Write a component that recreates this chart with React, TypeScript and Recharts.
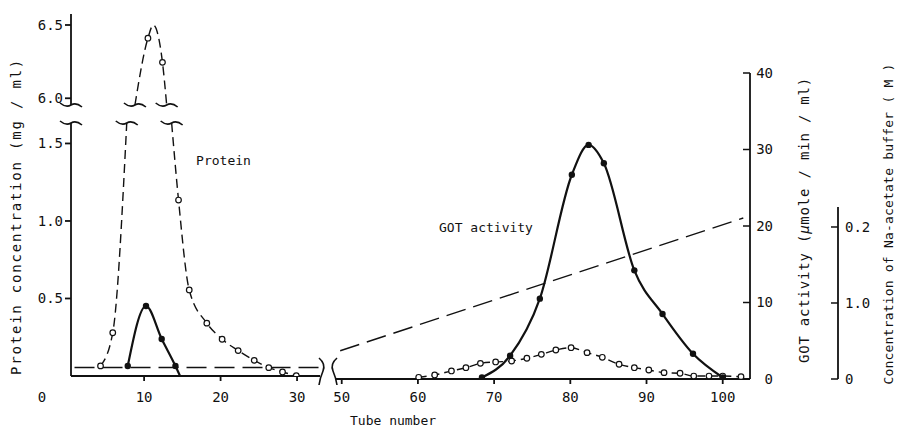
import React from 'react';
import { ComposedChart, Line, XAxis, YAxis, ReferenceDot } from 'recharts';

// values (tube number, value)
const proteinLeftLow: [number, number][] = [
  [4.3, 0.065], [5.9, 0.279],
  [14.5, 1.135], [15.9, 0.555], [18.2, 0.341], [20.2, 0.237], [22.3, 0.164],
  [24.4, 0.101], [26.3, 0.054], [28.1, 0.026], [29.9, 0.002],
];
const proteinLowBreaks = [7.73, 13.6]; // tubes where the curve leaves the lower panel
const proteinLeftHigh: [number, number][] = [[10.5, 6.41], [12.4, 6.245]];
const proteinHighPeak: [number, number] = [11.2, 6.5]; // top of the drawn curve (no marker)
const proteinHighBreaks = [8.8, 12.95];

const proteinRight: [number, number][] = [
  [60.1, 0.011], [62.2, 0.026], [64.4, 0.052], [66.3, 0.073], [68.2, 0.101],
  [70.2, 0.11], [72.3, 0.116], [74.3, 0.134], [76.2, 0.159], [78.1, 0.187],
  [80.1, 0.202], [82.2, 0.17], [84.2, 0.14], [86.4, 0.095], [88.4, 0.073],
  [90.3, 0.058], [92.3, 0.041], [94.4, 0.037], [96.2, 0.019], [98.2, 0.019],
  [100, 0.019], [102.4, 0.015],
];

const gotLeft: [number, number][] = [[7.86, 1.3], [10.25, 9.15], [12.3, 4.84], [14.1, 1.31]];
const gotLeftEnd: [number, number] = [14.7, 0];
const gotRight: [number, number][] = [
  [68.4, 0.2], [72.1, 3.05], [76.0, 10.5], [80.2, 26.7], [82.4, 30.6],
  [84.4, 28.2], [88.4, 14.2], [92.1, 8.5], [96.1, 3.3], [100, 0.2],
];

const bufferLeft: [number, number][] = [[0.9, 0.0112], [33, 0.0112]];
const bufferRight: [number, number][] = [[49.8, 0.0372], [102.7, 0.2118]];

const leftTicksX = [10, 20, 30];
const rightTicksX = [50, 60, 70, 80, 90, 100];
const proteinTicksLow = [0.5, 1.0, 1.5];
const proteinTicksHigh = [6.0, 6.5];
const gotTicks = [0, 10, 20, 30, 40];
const naTicks = [0, 0.1, 0.2];
const naTickLabels = ['0', '1.0', '0.2'];

// axis ranges (broken axes)
const LEFT_X: [number, number] = [0.44, 33.0];
const RIGHT_X: [number, number] = [49.25, 103.58];
const NA_X: [number, number] = [49.25, 115.13];
const LOW_TOP = 1.632;
const HIGH_BOTTOM = 5.954;

const INK = '#111';
const MONO = '"DejaVu Sans Mono", "Liberation Mono", monospace';

const marked = (key: string) => ([t, v]: [number, number]) => ({ t, [key]: v, mark: true });

const proteinLowRows = [
  ...proteinLeftLow.filter(([t]) => t < proteinLowBreaks[0]).map(marked('p')),
  { t: proteinLowBreaks[0], p: LOW_TOP },
  { t: (proteinLowBreaks[0] + proteinLowBreaks[1]) / 2, p: null },
  { t: proteinLowBreaks[1], p: LOW_TOP },
  ...proteinLeftLow.filter(([t]) => t > proteinLowBreaks[1]).map(marked('p')),
];
const proteinHighRows = [
  { t: proteinHighBreaks[0], p: HIGH_BOTTOM },
  ...proteinLeftHigh.map(marked('p')),
  { t: proteinHighPeak[0], p: proteinHighPeak[1] },
  { t: proteinHighBreaks[1], p: HIGH_BOTTOM },
].sort((a, b) => a.t - b.t);
const gotLeftRows = [...gotLeft.map(marked('g')), { t: gotLeftEnd[0], g: gotLeftEnd[1] }];
const gotRightRows = gotRight.map(marked('g'));
const proteinRightRows = proteinRight.map(marked('p'));
const bufferLeftRows = bufferLeft.map(([t, c]) => ({ t, c }));
const bufferRightRows = bufferRight.map(([t, c]) => ({ t, c }));

const openDot = (props: any) => {
  const { cx, cy, payload, index } = props;
  if (!payload?.mark || cy == null) return <g key={`o${index}`} />;
  return <circle key={`o${index}`} cx={cx} cy={cy} r={2.8} fill="#fff" stroke={INK} strokeWidth={1.2} />;
};
const filledDot = (props: any) => {
  const { cx, cy, payload, index } = props;
  if (!payload?.mark || cy == null) return <g key={`f${index}`} />;
  return <circle key={`f${index}`} cx={cx} cy={cy} r={3.2} fill={INK} />;
};

// break marks
const tilde = (p: any) => (
  <path
    d={`M ${p.cx - 11} ${p.cy - 2} Q ${p.cx - 5} ${p.cy + 3} ${p.cx} ${p.cy} T ${p.cx + 11} ${p.cy + 2}`}
    fill="none" stroke={INK} strokeWidth={1.6}
  />
);
const braceL = (p: any) => (
  <path
    d={`M ${p.cx - 1} ${p.cy - 18} Q ${p.cx + 6} ${p.cy - 12} ${p.cx + 3} ${p.cy - 5} T ${p.cx - 1} ${p.cy + 9}`}
    fill="none" stroke={INK} strokeWidth={1.6}
  />
);
const braceR = (p: any) => (
  <path
    d={`M ${p.cx + 1} ${p.cy - 21} Q ${p.cx - 6} ${p.cy - 15} ${p.cx - 3} ${p.cy - 8} T ${p.cx + 1} ${p.cy + 6}`}
    fill="none" stroke={INK} strokeWidth={1.6}
  />
);
const textAt = (text: string) => (p: any) => (
  <text x={p.cx} y={p.cy} fontFamily={MONO} fontSize={13} fill={INK}>{text}</text>
);

const tickStyle = { fontSize: 14, fill: INK, fontFamily: MONO };
const axisStyle = { stroke: INK, strokeWidth: 1.8 };

const GotTick = (props: any) => {
  const { x, y, payload } = props;
  return (
    <g>
      <line x1={x - 7} y1={y} x2={x} y2={y} stroke={INK} strokeWidth={1.5} />
      <text x={x + 23} y={y} dy="0.35em" textAnchor="end" {...tickStyle}>{payload.value}</text>
    </g>
  );
};
const NaTick = (props: any) => {
  const { x, y, index } = props;
  return (
    <g>
      <line x1={x - 7} y1={y} x2={x} y2={y} stroke={INK} strokeWidth={1.5} />
      <text x={x + 7} y={y} dy="0.35em" textAnchor="start" {...tickStyle}>{naTickLabels[index]}</text>
    </g>
  );
};

const layer: React.CSSProperties = { position: 'absolute', left: 0, top: 0 };

export default function App() {
  return (
    <div style={{ position: 'absolute', left: 0, top: 0, width: 900, height: 429, background: '#fff' }}>
      {/* lower left panel: protein 0 - 1.6, first GOT peak, starting buffer */}
      <div style={layer}>
        <ComposedChart width={900} height={429} margin={{ top: 123, right: 580, bottom: 23, left: 11 }}>
          <XAxis
            xAxisId="x" type="number" dataKey="t" domain={LEFT_X} allowDataOverflow
            ticks={leftTicksX} interval={0} tickSize={5} tickMargin={11} height={30}
            tick={tickStyle} axisLine={axisStyle} tickLine={axisStyle}
            label={{
              content: (p: any) => (
                <text x={p.viewBox.x - 29} y={p.viewBox.y + 25.5} textAnchor="middle" {...tickStyle}>0</text>
              ),
            }}
          />
          <YAxis
            yAxisId="p" type="number" domain={[0, LOW_TOP]} allowDataOverflow width={60}
            ticks={proteinTicksLow} interval={0} tickSize={6} tickMargin={2}
            tickFormatter={(v: number) => v.toFixed(1)}
            tick={tickStyle} axisLine={axisStyle} tickLine={axisStyle}
            label={{
              content: (p: any) => {
                const x = p.viewBox.x + 10;
                const y = p.viewBox.y + p.viewBox.height - 1;
                return (
                  <text x={x} y={y} transform={`rotate(-90 ${x} ${y})`} textAnchor="start"
                    fontFamily={MONO} fontSize={14} letterSpacing={1.8} fill={INK}>
                    Protein concentration (mg / ml)
                  </text>
                );
              },
            }}
          />
          <YAxis yAxisId="g" orientation="right" width={0} type="number" domain={[0, 33.07]} allowDataOverflow hide />
          <YAxis yAxisId="c" orientation="right" width={0} type="number" domain={[0, 0.3329]} allowDataOverflow hide />
          <Line xAxisId="x" yAxisId="c" data={bufferLeftRows} dataKey="c" type="linear" stroke={INK}
            strokeWidth={1.4} strokeDasharray="20 8" dot={false} activeDot={false} isAnimationActive={false} />
          <Line xAxisId="x" yAxisId="p" data={proteinLowRows} dataKey="p" type="monotone" stroke={INK}
            strokeWidth={1.4} strokeDasharray="9 5" dot={openDot} activeDot={false} isAnimationActive={false} />
          <Line xAxisId="x" yAxisId="g" data={gotLeftRows} dataKey="g" type="monotone" stroke={INK}
            strokeWidth={2.2} dot={filledDot} activeDot={false} isAnimationActive={false} />
          <ReferenceDot xAxisId="x" yAxisId="p" x={LEFT_X[0]} y={LOW_TOP} ifOverflow="visible" shape={tilde} />
          <ReferenceDot xAxisId="x" yAxisId="p" x={proteinLowBreaks[0]} y={LOW_TOP} ifOverflow="visible" shape={tilde} />
          <ReferenceDot xAxisId="x" yAxisId="p" x={proteinLowBreaks[1]} y={LOW_TOP} ifOverflow="visible" shape={tilde} />
          <ReferenceDot xAxisId="x" yAxisId="p" x={LEFT_X[1]} y={0} ifOverflow="visible" shape={braceL} />
          <ReferenceDot xAxisId="x" yAxisId="p" x={16.8} y={1.36} ifOverflow="visible" shape={textAt('Protein')} />
        </ComposedChart>
      </div>

      {/* upper left panel: protein 6.0 - 6.5 */}
      <div style={layer}>
        <ComposedChart width={900} height={429} margin={{ top: 14, right: 580, bottom: 324, left: 11 }}>
          <XAxis xAxisId="x" type="number" dataKey="t" domain={LEFT_X} allowDataOverflow hide />
          <YAxis
            yAxisId="p" type="number" domain={[HIGH_BOTTOM, 6.575]} allowDataOverflow width={60}
            ticks={proteinTicksHigh} interval={0} tickSize={6} tickMargin={2}
            tickFormatter={(v: number) => v.toFixed(1)}
            tick={tickStyle} axisLine={axisStyle} tickLine={axisStyle}
          />
          <Line xAxisId="x" yAxisId="p" data={proteinHighRows} dataKey="p" type="monotone" stroke={INK}
            strokeWidth={1.4} strokeDasharray="9 5" dot={openDot} activeDot={false} isAnimationActive={false} />
          <ReferenceDot xAxisId="x" yAxisId="p" x={LEFT_X[0]} y={HIGH_BOTTOM} ifOverflow="visible" shape={tilde} />
          <ReferenceDot xAxisId="x" yAxisId="p" x={proteinHighBreaks[0]} y={HIGH_BOTTOM} ifOverflow="visible" shape={tilde} />
          <ReferenceDot xAxisId="x" yAxisId="p" x={proteinHighBreaks[1]} y={HIGH_BOTTOM} ifOverflow="visible" shape={tilde} />
        </ComposedChart>
      </div>

      {/* right panel: tubes 50 - 100, GOT activity */}
      <div style={layer}>
        <ComposedChart width={900} height={429} margin={{ top: 73, right: 110, bottom: 20, left: 336 }}>
          <XAxis
            xAxisId="x" type="number" dataKey="t" domain={RIGHT_X} allowDataOverflow
            ticks={rightTicksX} interval={0} tickSize={5} tickMargin={8} height={30}
            tick={tickStyle} axisLine={axisStyle} tickLine={axisStyle}
            label={{
              content: (p: any) => (
                <text x={p.viewBox.x + 14} y={p.viewBox.y + 46} fontFamily={MONO} fontSize={13} fill={INK}>
                  Tube number
                </text>
              ),
            }}
          />
          <YAxis
            yAxisId="g" orientation="right" type="number" domain={[0, 40]} allowDataOverflow width={40}
            ticks={gotTicks} interval={0} tickSize={0} tickMargin={0}
            tick={GotTick} tickLine={false} axisLine={axisStyle}
            label={{
              content: (p: any) => {
                const x = p.viewBox.x + 59;
                const y = p.viewBox.y + p.viewBox.height / 2 - 6;
                return (
                  <text x={x} y={y} transform={`rotate(-90 ${x} ${y})`} textAnchor="middle"
                    fontFamily={MONO} fontSize={14} letterSpacing={0.8} fill={INK}>
                    GOT activity (<tspan fontStyle="italic">μ</tspan>mole / min / ml)
                  </text>
                );
              },
            }}
          />
          <YAxis yAxisId="p" width={0} type="number" domain={[0, 1.974]} allowDataOverflow hide />
          <Line xAxisId="x" yAxisId="p" data={proteinRightRows} dataKey="p" type="monotone" stroke={INK}
            strokeWidth={1.4} strokeDasharray="8 5" dot={openDot} activeDot={false} isAnimationActive={false} />
          <Line xAxisId="x" yAxisId="g" data={gotRightRows} dataKey="g" type="monotone" stroke={INK}
            strokeWidth={2.2} dot={filledDot} activeDot={false} isAnimationActive={false} />
          <ReferenceDot xAxisId="x" yAxisId="g" x={RIGHT_X[0]} y={0} ifOverflow="visible" shape={braceR} />
          <ReferenceDot xAxisId="x" yAxisId="g" x={62.77} y={19.2} ifOverflow="visible" shape={textAt('GOT activity')} />
        </ComposedChart>
      </div>

      {/* Na-acetate gradient and its axis */}
      <div style={layer}>
        <ComposedChart width={900} height={429} margin={{ top: 207, right: 12, bottom: 50, left: 336 }}>
          <XAxis xAxisId="x" type="number" dataKey="t" domain={NA_X} allowDataOverflow hide />
          <YAxis
            yAxisId="c" orientation="right" type="number" domain={[0, 0.2263]} allowDataOverflow width={50}
            ticks={naTicks} interval={0} tickSize={0} tickMargin={0}
            tick={NaTick} tickLine={false} axisLine={axisStyle}
            label={{
              content: (p: any) => {
                const x = p.viewBox.x + 55;
                const y = p.viewBox.y + p.viewBox.height - 155;
                return (
                  <text x={x} y={y} transform={`rotate(-90 ${x} ${y})`} textAnchor="middle"
                    fontFamily={MONO} fontSize={13} letterSpacing={0.2} fill={INK}>
                    Concentration of Na-acetate buffer ( M )
                  </text>
                );
              },
            }}
          />
          <Line xAxisId="x" yAxisId="c" data={bufferRightRows} dataKey="c" type="linear" stroke={INK}
            strokeWidth={1.4} strokeDasharray="20 8" dot={false} activeDot={false} isAnimationActive={false} />
        </ComposedChart>
      </div>
    </div>
  );
}
